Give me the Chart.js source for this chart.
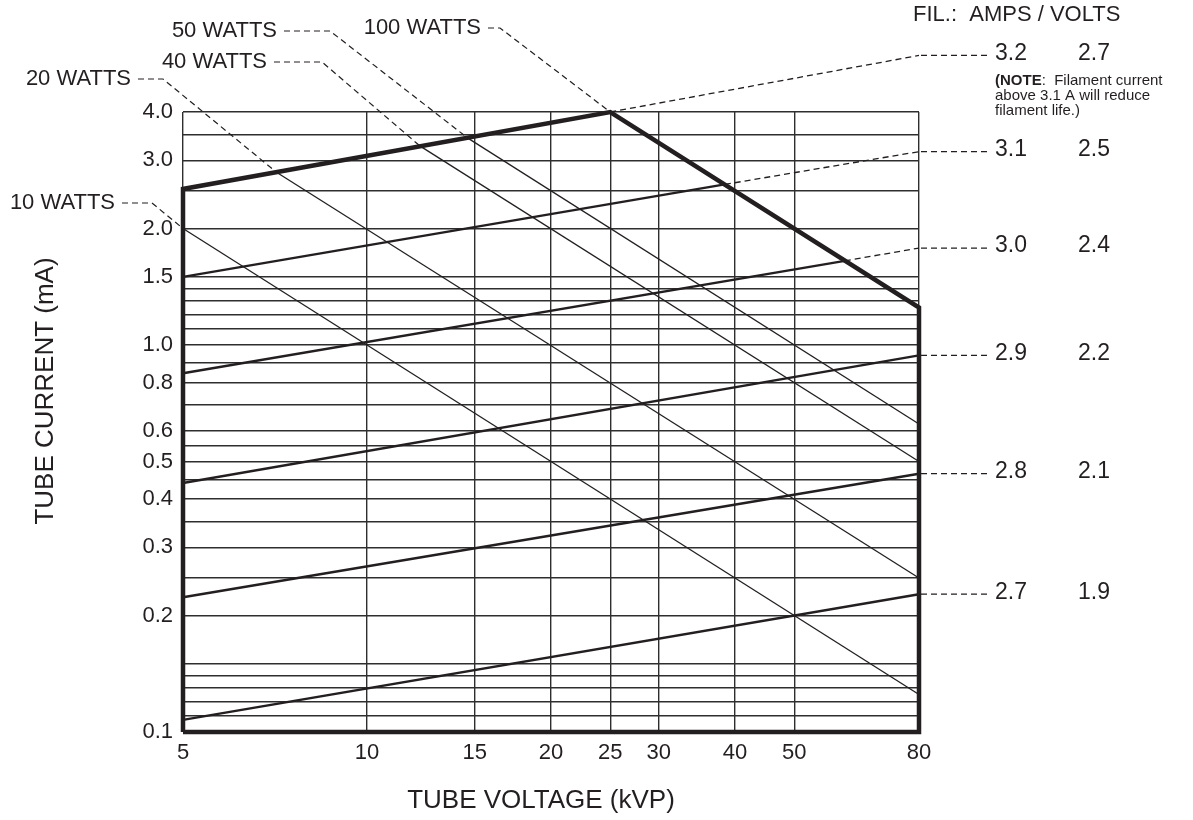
<!DOCTYPE html>
<html>
<head>
<meta charset="utf-8">
<script src="https://cdn.jsdelivr.net/npm/chart.js@4.4.1/dist/chart.umd.min.js"></script>
<style>
  html, body { margin: 0; padding: 0; background: #fff; }
  #wrap { width: 1193px; height: 820px; position: relative; }
</style>
</head>
<body>
<div id="wrap"><canvas id="c"></canvas></div>
<script>
/* ===== datos ===== */
const kvTicks = [5, 10, 15, 20, 25, 30, 40, 50, 80];
const maGrid = [0.1, 0.11, 0.12, 0.13, 0.14, 0.15, 0.2, 0.25, 0.3, 0.35, 0.4, 0.45, 0.5,
                0.55, 0.6, 0.7, 0.8, 0.9, 1.0, 1.1, 1.2, 1.3, 1.4, 1.5, 2.0, 2.5, 3.0, 3.5, 4.0];
const maLabels = [0.1, 0.2, 0.3, 0.4, 0.5, 0.6, 0.8, 1.0, 1.5, 2.0, 3.0, 4.0];

// límite de operación: borde izq., filamento 3.2 A, 100 W, borde der., fondo
const envelopeKV = [5, 5, 25, 80, 80, 5];
const envelopeMA = [0.1, 2.53, 4.0, 1.25, 0.1, 0.1];

// líneas de filamento (AMPS / VOLTS)
const filAmps   = ['3.2', '3.1', '3.0', '2.9', '2.8', '2.7'];
const filVolts  = ['2.7', '2.5', '2.4', '2.2', '2.1', '1.9'];
const filAt5kV  = [2.53, 1.5, 0.845, 0.44, 0.223, 0.1075];
const filAt80kV = [5.6, 3.16, 1.78, 0.94, 0.465, 0.227];
const filLimitKV = [25, 38.5, 60.5, null, null, null];   // cruce con la línea de 100 W
const filLimitMA = [4.0, 2.6, 1.65, null, null, null];

// líneas de potencia (kV, mA)
const wattNames   = ['10 WATTS', '20 WATTS', '40 WATTS', '50 WATTS', '100 WATTS'];
const wattStartKV = [5, 7.1, 12.2, 14.6, 25];
const wattStartMA = [2.0, 2.8, 3.27, 3.43, 4.0];
const wattEndKV   = [80, 80, 80, 80, 80];
const wattEndMA   = [0.125, 0.25, 0.5, 0.625, 1.25];

/* ===== estilo ===== */
const INK = '#231f20';
const GRID = '#2e2e2e';
const FONT = '"Liberation Sans", Arial, Helvetica, sans-serif';
const DASH = [6, 4];

// posiciones de etiquetas (layout)
const wattLabelRight = [115, 131, 267, 277, 481];
const wattLabelY     = [203, 79, 62, 31, 28];
const wattElbowX     = [152, 163, 322, 330, 500];
const filLeaderEnd = 990, filAmpsX = 995, filVoltsX = 1078;

/* ===== datasets ===== */
const pts = (xs, ys) => xs.map((x, i) => ({ x, y: ys[i] }));
const datasets = [];

// líneas de potencia (delgadas); 100 W va en el contorno grueso
for (let i = 0; i < 4; i++) {
  datasets.push({
    label: wattNames[i],
    data: pts([wattStartKV[i], wattEndKV[i]], [wattStartMA[i], wattEndMA[i]]),
    borderColor: INK, borderWidth: 1.3,
  });
}

// filamentos
filAmps.forEach((a, i) => {
  const lim = filLimitKV[i];
  if (i > 0) {
    datasets.push({
      label: a + ' A',
      data: lim ? pts([5, lim], [filAt5kV[i], filLimitMA[i]])
                : pts([5, 80], [filAt5kV[i], filAt80kV[i]]),
      borderColor: INK, borderWidth: 2.4,
    });
  }
  if (lim) {
    datasets.push({
      label: a + ' A (sobre límite)',
      data: pts([lim, 80], [filLimitMA[i], filAt80kV[i]]),
      borderColor: INK, borderWidth: 1.3, borderDash: DASH,
    });
  }
});

// contorno de operación
datasets.push({
  label: 'límite',
  data: pts(envelopeKV, envelopeMA),
  borderColor: INK, borderWidth: 4.5, borderJoinStyle: 'miter',
});

datasets.forEach(d => { d.showLine = true; d.pointRadius = 0; d.clip = false; d.fill = false; });

/* ===== anotaciones (textos y líneas guía) ===== */
const annotations = {
  id: 'annotations',
  afterDraw(chart) {
    const { ctx, scales: { x, y } } = chart;
    ctx.save();
    ctx.fillStyle = INK;
    ctx.strokeStyle = INK;
    ctx.lineWidth = 1.2;
    ctx.setLineDash(DASH);

    // guías de potencia
    ctx.font = `22px ${FONT}`;
    ctx.textBaseline = 'middle';
    wattNames.forEach((name, i) => {
      const ly = wattLabelY[i];
      ctx.textAlign = 'right';
      ctx.fillText(name, wattLabelRight[i], ly);
      ctx.beginPath();
      ctx.moveTo(wattLabelRight[i] + 7, ly);
      ctx.lineTo(wattElbowX[i], ly);
      ctx.lineTo(x.getPixelForValue(wattStartKV[i]), y.getPixelForValue(wattStartMA[i]));
      ctx.stroke();
    });

    // guías de filamento
    const x80 = x.getPixelForValue(80);
    ctx.font = `23px ${FONT}`;
    ctx.textAlign = 'left';
    filAmps.forEach((a, i) => {
      const py = y.getPixelForValue(filAt80kV[i]);
      ctx.beginPath();
      ctx.moveTo(x80 + 2, py);
      ctx.lineTo(filLeaderEnd, py);
      ctx.stroke();
      ctx.fillText(a, filAmpsX, py - 2);
      ctx.fillText(filVolts[i], filVoltsX, py - 2);
    });
    ctx.setLineDash([]);

    ctx.font = `22px ${FONT}`;
    ctx.fillText('FIL.:  AMPS / VOLTS', 913, 15);

    // nota
    ctx.font = `bold 15px ${FONT}`;
    ctx.fillText('(', 995, 81);
    let nx = 995 + ctx.measureText('(').width;
    ctx.fillText('NOTE', nx, 81);
    nx += ctx.measureText('NOTE').width;
    ctx.font = `15px ${FONT}`;
    ctx.fillText(':  Filament current', nx, 81);
    ctx.fillText('above 3.1 A will reduce', 995, 96);
    ctx.fillText('filament life.)', 995, 111);

    // títulos de ejes
    ctx.font = `26px ${FONT}`;
    ctx.textAlign = 'center';
    ctx.fillText('TUBE VOLTAGE (kVP)', 541, 801);
    ctx.translate(46, 391);
    ctx.rotate(-Math.PI / 2);
    ctx.fillText('TUBE CURRENT (mA)', 0, 0);
    ctx.restore();
  }
};

new Chart(document.getElementById('c'), {
  type: 'scatter',
  data: { datasets },
  options: {
    responsive: true,
    maintainAspectRatio: false,
    animation: false,
    layout: { padding: { left: 0, top: 112, right: 274, bottom: 0 } },
    scales: {
      x: {
        type: 'logarithmic', min: 5, max: 80,
        afterBuildTicks: s => { s.ticks = kvTicks.map(v => ({ value: v })); },
        afterFit: s => { s.height = 88; },
        ticks: {
          autoSkip: false, maxRotation: 0, padding: 8, color: INK,
          font: { family: FONT, size: 22 },
          callback: v => String(v),
        },
        grid: { color: GRID, lineWidth: 1.4, drawTicks: false },
        border: { display: false },
      },
      y: {
        type: 'logarithmic', min: 0.1, max: 4.0,
        afterBuildTicks: s => { s.ticks = maGrid.map(v => ({ value: v })); },
        afterFit: s => { s.width = 183; },
        ticks: {
          autoSkip: false, padding: 10, color: INK,
          font: { family: FONT, size: 22 },
          callback: v => maLabels.includes(v) ? v.toFixed(1) : '',
        },
        grid: { color: GRID, lineWidth: 1.4, drawTicks: false },
        border: { display: false },
      },
    },
    plugins: {
      legend: { display: false },
      tooltip: { enabled: false },
      title: { display: false },
    },
  },
  plugins: [annotations],
});
</script>
</body>
</html>
